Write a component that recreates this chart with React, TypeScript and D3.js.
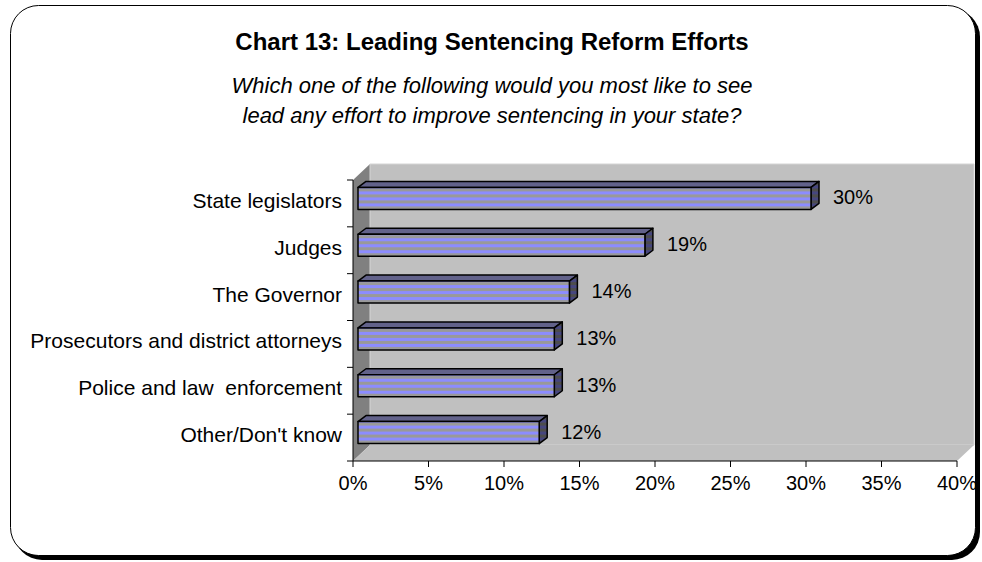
import React from "react";
import * as d3 from "d3";

const categories = [
  "State legislators",
  "Judges",
  "The Governor",
  "Prosecutors and district attorneys",
  "Police and law  enforcement",
  "Other/Don't know",
];
const values = [30, 19, 14, 13, 13, 12];
const xTicks = [0, 5, 10, 15, 20, 25, 30, 35, 40];
const title = "Chart 13: Leading Sentencing Reform Efforts";
const subtitle = [
  "Which one of the following would you most like to see",
  "lead any effort to improve sentencing in your state?",
];

const W = 982;
const H = 562;
const FONT = "'Liberation Sans', Arial, sans-serif";

export default function App() {
  const x0 = 353;
  const x1 = 957;
  const yTop = 180;
  const yBot = 461;
  const depthX = 17;
  const depthY = 16;
  const x = d3.scaleLinear().domain([0, 40]).range([x0, x1]);
  const y = d3.scaleBand().domain(categories).range([yTop, yBot]);
  const barH = 22;
  const bdx = 8;
  const bdy = 6;
  const shift = 5;

  return (
    <svg width={W} height={H} style={{ position: "absolute", left: 0, top: 0 }}>
      <defs>
        {values.map((v, i) => {
          const yc = (y(categories[i]) as number) + y.bandwidth() / 2 - shift;
          const by = yc - barH / 2;
          return (
            <React.Fragment key={i}>
              <pattern id={`front${i}`} patternUnits="userSpaceOnUse" x={0} y={by + 1} width={20} height={6}>
                <rect width={20} height={6} fill="#999999" />
                <rect y={3} width={20} height={3} fill="#8c8cff" />
              </pattern>
              <pattern id={`side${i}`} patternUnits="userSpaceOnUse" x={0} y={by + 1} width={20} height={6}>
                <rect width={20} height={6} fill="#4d4d4d" />
                <rect y={3} width={20} height={3} fill="#46467f" />
              </pattern>
            </React.Fragment>
          );
        })}
      </defs>
      {/* frame with shadow */}
      <rect x={14} y={9} width={966} height={551} rx={28} fill="#000" />
      <rect x={10.5} y={5.5} width={965} height={550} rx={28} fill="#fff" stroke="#000" strokeWidth={1} />

      <text x={492} y={50} textAnchor="middle" fontFamily={FONT} fontWeight="bold" fontSize={24}>
        {title}
      </text>
      {subtitle.map((s, i) => (
        <text key={i} x={492} y={93 + i * 30} textAnchor="middle" fontFamily={FONT} fontStyle="italic" fontSize={22}>
          {s}
        </text>
      ))}

      {/* walls */}
      <polygon
        points={`${x0},${yTop} ${x0 + depthX},${yTop - depthY} ${x0 + depthX},${yBot - depthY} ${x0},${yBot}`}
        fill="#808080"
      />
      <polygon
        points={`${x0 + depthX},${yTop - depthY} ${x1 + depthX},${yTop - depthY} ${x1 + depthX},${yBot - depthY} ${x0 + depthX},${yBot - depthY}`}
        fill="#c0c0c0"
        stroke="#d4d4d4"
        strokeWidth={1}
      />
      <polygon
        points={`${x0},${yBot} ${x0 + depthX},${yBot - depthY} ${x1 + depthX},${yBot - depthY} ${x1},${yBot}`}
        fill="#c0c0c0"
      />

      {/* axes */}
      <line x1={x0} x2={x0} y1={yTop} y2={yBot} stroke="#000" />
      {categories.map((c, i) => (
        <line key={i} x1={x0 - 6} x2={x0} y1={y(c) as number} y2={y(c) as number} stroke="#000" />
      ))}
      <line x1={x0 - 6} x2={x0} y1={yBot} y2={yBot} stroke="#000" />
      <line x1={x0} x2={x1} y1={yBot} y2={yBot} stroke="#000" />
      {xTicks.map((t) => (
        <g key={t}>
          <line x1={x(t)} x2={x(t)} y1={yBot} y2={yBot + 6} stroke="#000" />
          <text x={x(t)} y={490} textAnchor="middle" fontFamily={FONT} fontSize={20}>
            {t}%
          </text>
        </g>
      ))}

      {categories.map((c, i) => (
        <text
          key={c}
          x={342}
          y={(y(c) as number) + y.bandwidth() / 2 + 4.5}
          textAnchor="end"
          fontFamily={FONT}
          fontSize={21}
          style={{ whiteSpace: "pre" }}
        >
          {c}
        </text>
      ))}

      {/* bars */}
      {values.map((v, i) => {
        const yc = (y(categories[i]) as number) + y.bandwidth() / 2 - shift;
        const by = yc - barH / 2;
        const bx0 = x(0) + shift;
        const bx1 = x(v) + shift;
        return (
          <g key={i} stroke="#000" strokeWidth={1.5} strokeLinejoin="round">
            <polygon
              points={`${bx0},${by} ${bx0 + bdx},${by - bdy} ${bx1 + bdx},${by - bdy} ${bx1},${by}`}
              fill="#62628a"
            />
            <polygon
              points={`${bx1},${by} ${bx1 + bdx},${by - bdy} ${bx1 + bdx},${by + barH - bdy} ${bx1},${by + barH}`}
              fill={`url(#side${i})`}
            />
            <rect x={bx0} y={by} width={bx1 - bx0} height={barH} fill={`url(#front${i})`} />
            <text
              x={bx1 + 22}
              y={yc + 6}
              fontFamily={FONT}
              fontSize={20}
              stroke="none"
              fill="#000"
            >
              {v}%
            </text>
          </g>
        );
      })}
    </svg>
  );
}
